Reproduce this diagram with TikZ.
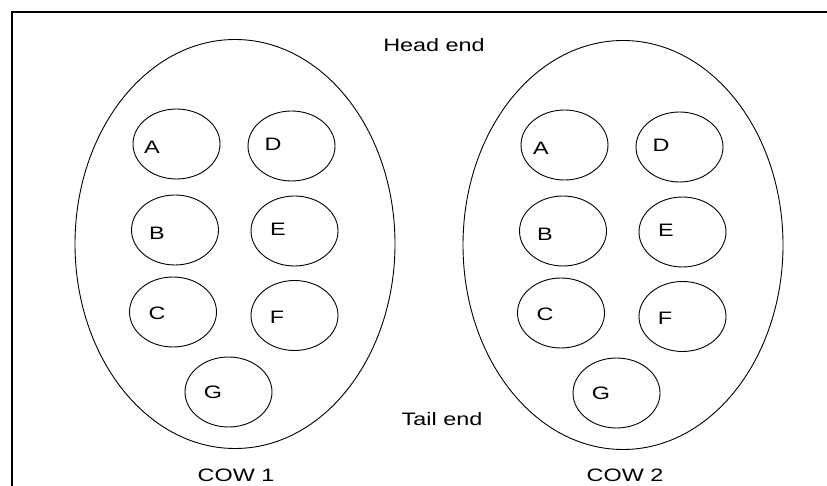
\documentclass[tikz,border=0pt]{standalone}
\usepackage{fontspec}
\setmainfont{Liberation Sans}
\usetikzlibrary{shapes.geometric}
\begin{document}
\begin{tikzpicture}[x=1pt,y=-1pt,
  cow/.style={draw, ellipse, line width=0.9pt, inner sep=0pt, minimum width=320pt, minimum height=409pt},
  teat/.style={draw, ellipse, line width=0.9pt, inner sep=0pt, minimum width=87pt, minimum height=70pt},
  txt/.style={inner sep=0pt, xscale=1.3, font=\fontsize{18}{20}\selectfont}]
\useasboundingbox (0,0) rectangle (827,486);
\fill[white] (0,0) rectangle (827,486);
\coordinate (fa) at (827,12);
\coordinate (fc) at (11.5,12);
\coordinate (fb) at (11.5,486);
\draw[line width=2pt] (fa) -- (fc) -- (fb);
% cow 1
\node[cow] (cow1) at (235,244) {};
\node[teat] (a1) at (176.5,144) {};
\node[teat] (d1) at (291.5,146) {};
\node[teat] (b1) at (175,230) {};
\node[teat] (e1) at (294.5,231) {};
\node[teat] (c1) at (173,312) {};
\node[teat] (f1) at (294.5,315.5) {};
\node[teat] (g1) at (228.5,392) {};
\node[txt] (la1) at (152,147) {A};
\node[txt] (ld1) at (273,144) {D};
\node[txt] (lb1) at (157,233) {B};
\node[txt] (le1) at (278,229) {E};
\node[txt] (lc1) at (157,313) {C};
\node[txt] (lf1) at (277,317) {F};
\node[txt] (lg1) at (213,392) {G};
% cow 2
\begin{scope}[xshift=388pt]
\node[cow] (cow2) at (235,245) {};
\node[teat] (a2) at (176.5,145) {};
\node[teat] (d2) at (291.5,147) {};
\node[teat] (b2) at (175,231) {};
\node[teat] (e2) at (294.5,232) {};
\node[teat] (c2) at (173,313) {};
\node[teat] (f2) at (294.5,316.5) {};
\node[teat] (g2) at (228.5,393) {};
\node[txt] (la2) at (153,148) {A};
\node[txt] (ld2) at (273,145) {D};
\node[txt] (lb2) at (157,234) {B};
\node[txt] (le2) at (278,230) {E};
\node[txt] (lc2) at (157,314) {C};
\node[txt] (lf2) at (277,318) {F};
\node[txt] (lg2) at (213,393) {G};
\end{scope}
\node[txt] (head) at (434,45) {Head end};
\node[txt] (tail) at (442,419) {Tail end};
\node[txt] (cowl1) at (236,475.5) {COW 1};
\node[txt] (cowl2) at (625,475.5) {COW 2};
\end{tikzpicture}
\end{document}
